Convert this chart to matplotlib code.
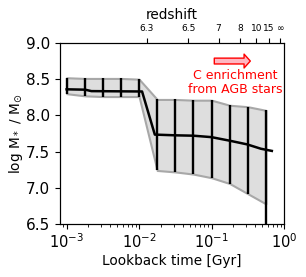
import numpy as np
import matplotlib
matplotlib.use("Agg")
import matplotlib.pyplot as plt

# Error-bar / band data
t_bins = [1.0e-3, 1.78e-3, 3.16e-3, 5.62e-3, 1.0e-2,
          1.78e-2, 3.16e-2, 5.62e-2, 0.1, 0.178, 0.316, 0.562]
upper = [8.52, 8.51, 8.51, 8.51, 8.50,
         8.22, 8.22, 8.21, 8.21, 8.14, 8.12, 8.07]
lower = [8.30, 8.27, 8.26, 8.26, 8.26,
         7.24, 7.22, 7.19, 7.14, 7.06, 6.92, 6.78]
bar_lower = [8.30, 8.27, 8.26, 8.26, 8.26,
             7.24, 7.22, 7.19, 7.14, 7.06, 6.92, 6.0]

# Median line
t_line = [1.0e-3, 1.8e-3, 2.2e-3, 1.1e-2, 1.65e-2, 3.2e-2, 5.6e-2,
          0.1, 0.18, 0.31, 0.48, 0.68]
m_line = [8.36, 8.355, 8.335, 8.33, 7.735, 7.725, 7.72,
          7.70, 7.65, 7.60, 7.54, 7.51]

# Redshift axis
z_obs = 6.23
z_ticks = [6.3, 6.5, 7, 8, 10, 15, np.inf]
z_labels = ["6.3", "6.5", "7", "8", "10", "15", "∞"]


def age_gyr(z):
    H0 = 67.74
    Om = 0.3089
    OL = 1 - Om
    th = 977.8 / H0
    z = np.asarray(z, dtype=float)
    a = np.where(np.isinf(z), 0.0, 1.0 / (1.0 + np.where(np.isinf(z), 0, z)))
    return 2.0 / (3.0 * np.sqrt(OL)) * th * np.arcsinh(np.sqrt(OL / Om) * a ** 1.5)


t_obs = age_gyr(z_obs)
z_tick_pos = t_obs - age_gyr(z_ticks)

fig = plt.figure(figsize=(3.06, 2.77), dpi=100)
ax = fig.add_axes([0.196, 0.191, 0.732, 0.654])

ax.fill_between(t_bins, lower, upper, facecolor="#dedede", edgecolor="#a8a8a8",
                linewidth=1.5, zorder=1)
ax.vlines(t_bins, bar_lower, upper, colors="black", linewidth=1.7, zorder=3)
ax.plot(t_line, m_line, color="black", linewidth=1.8, zorder=4)

ax.set_xscale("log")
ax.set_xlim(8.1e-4, 1.0)
ax.set_ylim(6.5, 9.0)
ax.set_yticks([6.5, 7.0, 7.5, 8.0, 8.5, 9.0])
ax.tick_params(axis="y", labelsize=11)
ax.tick_params(axis="x", labelsize=10.5, pad=2.5)
ax.set_xlabel("Lookback time [Gyr]", fontsize=9.8, labelpad=2)
ax.set_ylabel(r"log M$_*$ / M$_{\odot}$", fontsize=9.8, labelpad=1)

ax.annotate("", xy=(0.375, 8.75), xytext=(0.1, 8.75),
            arrowprops=dict(arrowstyle="simple,head_length=0.45,head_width=1.0,tail_width=0.42",
                            facecolor="#ffb6c1", edgecolor="red", linewidth=1.0))
ax.text(0.215, 8.46, "C enrichment\nfrom AGB stars", color="red", fontsize=9,
        ha="center", va="center", linespacing=1.1)

ax2 = ax.twiny()
ax2.set_xscale("log")
ax2.set_xlim(ax.get_xlim())
ax2.set_xticks(z_tick_pos)
ax2.set_xticklabels(z_labels)
ax2.xaxis.set_minor_locator(matplotlib.ticker.NullLocator())
ax2.tick_params(axis="x", labelsize=6.5)
ax2.set_xlabel("redshift", fontsize=9.8)

fig.savefig("out.png", dpi=100)
